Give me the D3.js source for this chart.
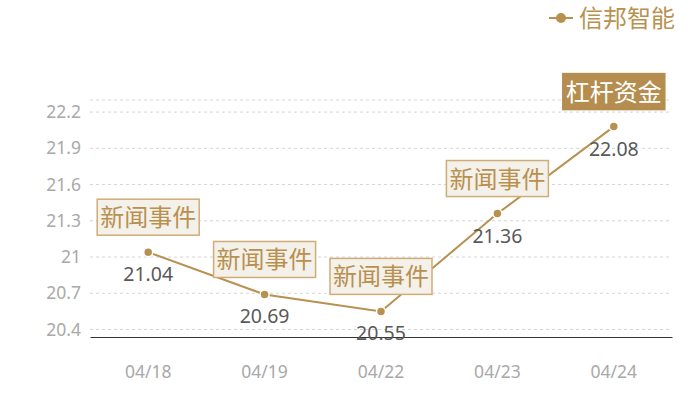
<!DOCTYPE html>
<html>
<head>
<meta charset="utf-8">
<script src="https://cdn.jsdelivr.net/npm/d3@7"></script>
<style>
  body { margin: 0; background: #fff; }
  text { font-family: "Noto Sans CJK SC", "Noto Sans", sans-serif; }
</style>
</head>
<body>
<div id="graf"></div>
<script>
// datos
fechas = ['04/18', '04/19', '04/22', '04/23', '04/24']
valores = [21.04, 20.69, 20.55, 21.36, 22.08]
eventos = ['新闻事件', '新闻事件', '新闻事件', '新闻事件', '杠杆资金']
destacado = [false, false, false, false, true]
ticksY = [20.4, 20.7, 21, 21.3, 21.6, 21.9, 22.2]
dominioY = [20.338, 22.3]
serie = '信邦智能'

oro = '#b8914f'

ancho_total = 700
alto_total = 400
margins = { top: 100, left: 90, right: 28, bottom: 63 }
ancho = ancho_total - margins.left - margins.right
alto = alto_total - margins.top - margins.bottom

svg = d3.select('#graf').append('svg')
        .attr('width', ancho_total)
        .attr('height', alto_total)

g = svg.append('g')
       .attr('transform', `translate(${ margins.left }, ${ margins.top })`)

x = d3.scaleBand().domain(fechas).range([0, ancho])
y = d3.scaleLinear().domain(dominioY).range([alto, 0])

// rejilla
g.selectAll('.grid')
  .data(ticksY.concat([dominioY[1]]))
  .enter().append('line')
    .attr('x1', 0).attr('x2', ancho)
    .attr('y1', d => y(d)).attr('y2', d => y(d))
    .attr('stroke', '#d4d4d4')
    .attr('stroke-dasharray', '3,3')

// eje Y
yAxis = g.append('g')
  .call(d3.axisLeft(y).tickValues(ticksY).tickSize(0).tickPadding(9).tickFormat(d => d))
yAxis.select('.domain').remove()
yAxis.selectAll('text').attr('fill', '#a9a9a9').style('font-size', '17.5px')
     .style('font-family', '"Noto Sans", sans-serif')

// eje X
xAxis = g.append('g')
  .attr('transform', `translate(0, ${ alto })`)
  .call(d3.axisBottom(x).tickSize(0).tickPadding(29))
xAxis.select('.domain').attr('stroke', '#333')
xAxis.selectAll('text').attr('fill', '#a9a9a9').style('font-size', '17.5px')
     .style('font-family', '"Noto Sans", sans-serif')

cx = d => x(d) + x.bandwidth() / 2

// línea
linea = d3.line()
  .x((d, i) => cx(fechas[i]))
  .y(d => y(d))

g.append('path')
  .datum(valores)
  .attr('d', linea)
  .attr('fill', 'none')
  .attr('stroke', oro)
  .attr('stroke-width', 2)

g.selectAll('.punto')
  .data(valores)
  .enter().append('circle')
    .attr('cx', (d, i) => cx(fechas[i]))
    .attr('cy', d => y(d))
    .attr('r', 4.5)
    .attr('fill', oro)
    .attr('stroke', '#fff')
    .attr('stroke-width', 1.5)

// etiquetas de valor
g.selectAll('.valor')
  .data(valores)
  .enter().append('text')
    .attr('x', (d, i) => cx(fechas[i]))
    .attr('y', d => y(d) + 29)
    .attr('text-anchor', 'middle')
    .attr('fill', '#595959')
    .style('font-size', '19.5px')
    .style('font-family', '"Noto Sans", sans-serif')
    .text(d => d.toFixed(2))

// anotaciones
notas = g.selectAll('.nota')
  .data(valores)
  .enter().append('g')
    .attr('transform', (d, i) => `translate(${ cx(fechas[i]) }, ${ y(d) - 17 })`)

notas.append('rect')
  .attr('x', -51).attr('y', -36)
  .attr('width', 102).attr('height', 36)
  .attr('fill', (d, i) => destacado[i] ? '#b58d4e' : '#f4f0ea')
  .attr('stroke', (d, i) => destacado[i] ? '#b58d4e' : '#cfad78')
  .attr('stroke-width', 1.5)

notas.append('text')
  .attr('x', 0).attr('y', -9)
  .attr('text-anchor', 'middle')
  .attr('fill', (d, i) => destacado[i] ? '#fff' : '#b8914f')
  .style('font-size', '24px')
  .text((d, i) => eventos[i])

// leyenda
ley = svg.append('g').attr('transform', 'translate(549, 18)')
ley.append('line').attr('x1', 0).attr('x2', 24).attr('y1', 0).attr('y2', 0)
   .attr('stroke', oro).attr('stroke-width', 2)
ley.append('circle').attr('cx', 12).attr('cy', 0).attr('r', 5).attr('fill', oro)
ley.append('text').attr('x', 30).attr('y', 9)
   .attr('fill', oro).style('font-size', '24px').text(serie)
</script>
</body>
</html>
